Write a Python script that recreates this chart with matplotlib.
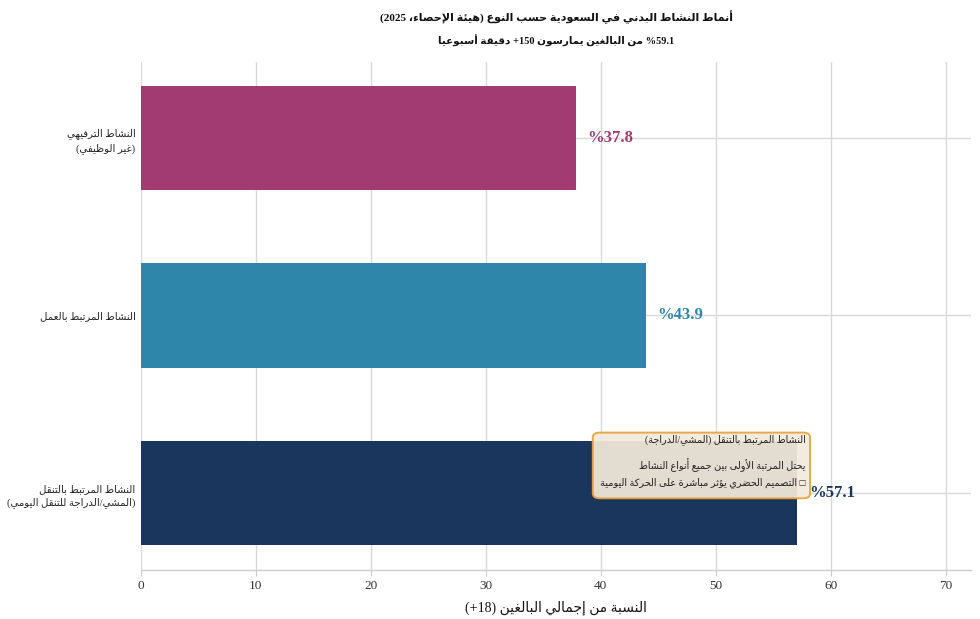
import matplotlib
matplotlib.use("Agg")
import matplotlib.pyplot as plt
from matplotlib.patches import FancyBboxPatch

# ---------------- data ----------------
categories = ["النشاط المرتبط بالتنقل\n(المشي/الدراجة للتنقل اليومي)",
              "النشاط المرتبط بالعمل",
              "النشاط الترفيهي\n(غير الوظيفي)"]
values = [57.1, 43.9, 37.8]
colors = ["#1B365D", "#2E86AB", "#A23B72"]
xticks = [0, 10, 20, 30, 40, 50, 60, 70]
title = "أنماط النشاط البدني في السعودية حسب النوع (هيئة الإحصاء، 2025)"
subtitle = "%59.1 من البالغين يمارسون 150+ دقيقة أسبوعيا"
xlabel = "النسبة من إجمالي البالغين (18+)"
note_lines = ["النشاط المرتبط بالتنقل (المشي/الدراجة)",
              "يحتل المرتبة الأولى بين جميع أنواع النشاط",
              "□ التصميم الحضري يؤثر مباشرة على الحركة اليومية"]

# ---------------- minimal Arabic shaping + bidi ----------------
_DUAL = {0x0626: 0xFE89, 0x0628: 0xFE8F, 0x062A: 0xFE95, 0x062B: 0xFE99, 0x062C: 0xFE9D,
         0x062D: 0xFEA1, 0x062E: 0xFEA5, 0x0633: 0xFEB1, 0x0634: 0xFEB5, 0x0635: 0xFEB9,
         0x0636: 0xFEBD, 0x0637: 0xFEC1, 0x0638: 0xFEC5, 0x0639: 0xFEC9, 0x063A: 0xFECD,
         0x0641: 0xFED1, 0x0642: 0xFED5, 0x0643: 0xFED9, 0x0644: 0xFEDD, 0x0645: 0xFEE1,
         0x0646: 0xFEE5, 0x0647: 0xFEE9, 0x064A: 0xFEF1}
_RIGHT = {0x0622: 0xFE81, 0x0623: 0xFE83, 0x0624: 0xFE85, 0x0625: 0xFE87, 0x0627: 0xFE8D,
          0x0629: 0xFE93, 0x062F: 0xFEA9, 0x0630: 0xFEAB, 0x0631: 0xFEAD, 0x0632: 0xFEAF,
          0x0648: 0xFEED, 0x0649: 0xFEEF}
_LAMALEF = {0x0622: 0xFEF5, 0x0623: 0xFEF7, 0x0625: 0xFEF9, 0x0627: 0xFEFB}
_MIRROR = {"(": ")", ")": "(", "[": "]", "]": "[", "<": ">", ">": "<"}


def _shape(s):
    toks = []
    i = 0
    while i < len(s):
        c = ord(s[i])
        if c == 0x0644 and i + 1 < len(s) and ord(s[i + 1]) in _LAMALEF:
            toks.append(("L", _LAMALEF[ord(s[i + 1])]))
            i += 2
            continue
        if c in _DUAL:
            toks.append(("D", _DUAL[c]))
        elif c in _RIGHT:
            toks.append(("R", _RIGHT[c]))
        elif c == 0x0621:
            toks.append(("U", 0xFE80))
        else:
            toks.append(("X", c))
        i += 1
    out = []
    for k, (t, base) in enumerate(toks):
        if t == "X" or t == "U":
            out.append(chr(base))
            continue
        jp = k > 0 and toks[k - 1][0] == "D"
        jn = t == "D" and k + 1 < len(toks) and toks[k + 1][0] in ("D", "R", "L")
        if t == "D":
            off = 3 if (jp and jn) else 1 if jp else 2 if jn else 0
        else:
            off = 1 if jp else 0
        out.append(chr(base + off))
    return "".join(out)


def _cls(ch):
    o = ord(ch)
    if 0x0600 <= o <= 0x06FF or 0xFB50 <= o <= 0xFEFF:
        return "R"
    if ch.isdigit():
        return "EN"
    if ch.isalpha():
        return "L"
    return "N"


def ar(s):
    """Shape and reorder Arabic text (RTL paragraph), line by line."""
    lines = []
    for line in s.split("\n"):
        t = _shape(line)
        cl = [_cls(c) for c in t]
        n = len(t)
        for i, c in enumerate(t):
            if cl[i] == "N":
                prev_en = i > 0 and cl[i - 1] == "EN"
                next_en = i + 1 < n and cl[i + 1] == "EN"
                if c in ".," and prev_en and next_en:
                    cl[i] = "EN"
                elif c == "%" and (prev_en or next_en):
                    cl[i] = "EN"
        levels = []
        for i in range(n):
            if cl[i] in ("EN", "L"):
                levels.append(2)
            elif cl[i] == "R":
                levels.append(1)
            else:
                levels.append(None)
        for i in range(n):
            if levels[i] is None:
                j = i - 1
                while j >= 0 and cl[j] == "N":
                    j -= 1
                k = i + 1
                while k < n and cl[k] == "N":
                    k += 1
                if j >= 0 and k < n and cl[j] == "L" and cl[k] == "L":
                    levels[i] = 2
                else:
                    levels[i] = 1
        chars = list(t)
        idx = list(range(n))
        i = 0
        while i < n:
            if levels[idx[i]] >= 2:
                j = i
                while j < n and levels[idx[j]] >= 2:
                    j += 1
                idx[i:j] = idx[i:j][::-1]
                i = j
            else:
                i += 1
        idx = idx[::-1]
        res = []
        for p in idx:
            c = chars[p]
            if levels[p] == 1:
                c = _MIRROR.get(c, c)
            res.append(c)
        lines.append("".join(res))
    return "\n".join(lines)


# ---------------- figure ----------------
plt.rcParams["font.family"] = ["Liberation Serif", "DejaVu Sans"]

fig = plt.figure(figsize=(9.8, 6.19), dpi=100)
ax = fig.add_axes([141 / 980, 49 / 619, 830 / 980, 508 / 619])

ypos = list(range(len(categories)))
ax.barh(ypos, values, height=0.59, color=colors, zorder=2)

for y, v, c in zip(ypos, values, colors):
    ax.text(v + 1.0, y, f"%{v:.1f}", ha="left", va="center", color=c,
            fontsize=12, fontweight="bold", zorder=4)

ax.set_xlim(0, 72.2)
ax.set_ylim(-0.434, 2.428)
ax.set_xticks(xticks)
ax.set_xticklabels([str(t) for t in xticks], fontsize=9.5, color="#333333")
ax.set_yticks(ypos)
ax.set_yticklabels([ar(c) for c in categories], fontsize=7.3, color="#222222",
                   linespacing=1.45)
ax.tick_params(axis="y", length=0, pad=4)
ax.tick_params(axis="x", length=4, color="#cccccc", pad=3)

ax.grid(True, axis="both", color="#d9d9d9", linewidth=1.0, zorder=0)
ax.set_axisbelow(True)
for s in ["top", "right", "left"]:
    ax.spines[s].set_visible(False)
ax.spines["bottom"].set_color("#cccccc")
ax.spines["bottom"].set_linewidth(1.0)

ax.set_xlabel(ar(xlabel), fontsize=10, color="#111111", labelpad=6)

fig.text(556 / 980, 1 - 17 / 619, ar(title), ha="center", va="center",
         fontsize=8, fontweight="bold", color="#111111")
fig.text(556 / 980, 1 - 41 / 619, ar(subtitle), ha="center", va="center",
         fontsize=7.5, fontweight="bold", color="#111111")

# annotation box
box = FancyBboxPatch((39.3, -0.03), 18.9, 0.37,
                     boxstyle="round,pad=0,rounding_size=0.6",
                     mutation_aspect=0.045,
                     facecolor="#F3EADB", edgecolor="#E8A33D", linewidth=1.4,
                     alpha=0.93, zorder=5)
ax.add_patch(box)
note_y = [0.30, 0.16, 0.06]
for ln, yy in zip(note_lines, note_y):
    ax.text(57.8, yy, ar(ln), ha="right", va="center", fontsize=7,
            color="#222222", zorder=6)

fig.savefig("out.png", dpi=100)
